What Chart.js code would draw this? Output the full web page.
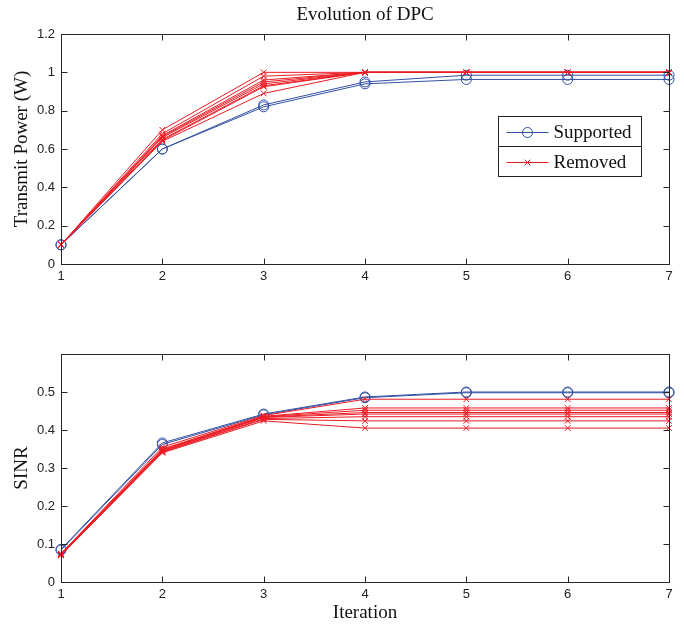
<!DOCTYPE html>
<html>
<head>
<meta charset="utf-8">
<title>Evolution of DPC</title>
<script src="https://cdn.jsdelivr.net/npm/chart.js@4.4.1/dist/chart.umd.min.js"></script>
<style>
  body { margin: 0; background: #fff; }
  canvas { display: block; }
</style>
</head>
<body>
<canvas id="powerChart" width="684" height="310"></canvas>
<canvas id="sinrChart" width="684" height="315"></canvas>
<script>
// iteration axis
const iterations = [1, 2, 3, 4, 5, 6, 7];

// transmit power (W) per user
const powerSupported = [
  [0.1, 0.60, 0.83, 0.95, 0.985, 0.985, 0.985],
  [0.1, 0.60, 0.82, 0.94, 0.963, 0.963, 0.963]
];
const powerRemoved = [
  [0.1, 0.70, 1.00, 1.0, 1.0, 1.0, 1.0],
  [0.1, 0.68, 0.98, 1.0, 1.0, 1.0, 1.0],
  [0.1, 0.67, 0.96, 1.0, 1.0, 1.0, 1.0],
  [0.1, 0.665, 0.95, 1.0, 1.0, 1.0, 1.0],
  [0.1, 0.66, 0.94, 1.0, 1.0, 1.0, 1.0],
  [0.1, 0.65, 0.93, 1.0, 1.0, 1.0, 1.0],
  [0.1, 0.645, 0.925, 1.0, 1.0, 1.0, 1.0],
  [0.1, 0.64, 0.89, 1.0, 1.0, 1.0, 1.0]
];

// SINR per user
const sinrSupported = [
  [0.086, 0.366, 0.442, 0.487, 0.500, 0.500, 0.500],
  [0.084, 0.362, 0.440, 0.485, 0.498, 0.498, 0.498]
];
const sinrRemoved = [
  [0.075, 0.355, 0.438, 0.481, 0.481, 0.481, 0.481],
  [0.074, 0.350, 0.436, 0.458, 0.458, 0.458, 0.458],
  [0.073, 0.348, 0.435, 0.452, 0.452, 0.452, 0.452],
  [0.073, 0.346, 0.434, 0.446, 0.446, 0.446, 0.446],
  [0.072, 0.345, 0.433, 0.442, 0.442, 0.442, 0.442],
  [0.072, 0.343, 0.430, 0.435, 0.435, 0.435, 0.435],
  [0.071, 0.342, 0.428, 0.424, 0.424, 0.424, 0.424],
  [0.070, 0.340, 0.424, 0.405, 0.405, 0.405, 0.405]
];

const BLUE = '#3350a3';
const RED = '#ec1c24';
const SERIF = '"Liberation Serif", "Times New Roman", serif';
const SANS = '"Liberation Sans", Arial, Helvetica, sans-serif';

Chart.defaults.font.family = SANS;
Chart.defaults.font.size = 13;
Chart.defaults.color = '#222';

// box round the plot area with inward ticks on all four sides
const axesBox = {
  id: 'axesBox',
  afterDatasetsDraw(chart) {
    const { ctx, chartArea: a, scales: { x, y } } = chart;
    const L = Math.round(a.left) + 0.5, R = Math.round(a.right) + 0.5;
    const T = Math.round(a.top) + 0.5, B = Math.round(a.bottom) + 0.5;
    const len = 6;
    ctx.save();
    ctx.strokeStyle = '#262626';
    ctx.lineWidth = 1;
    ctx.strokeRect(L, T, R - L, B - T);
    ctx.beginPath();
    x.ticks.forEach((t, i) => {
      const px = Math.round(x.getPixelForTick(i)) + 0.5;
      ctx.moveTo(px, B); ctx.lineTo(px, B - len);
      ctx.moveTo(px, T); ctx.lineTo(px, T + len);
    });
    y.ticks.forEach(t => {
      const py = Math.round(y.getPixelForValue(t.value)) + 0.5;
      ctx.moveTo(L, py); ctx.lineTo(L + len, py);
      ctx.moveTo(R, py); ctx.lineTo(R - len, py);
    });
    ctx.stroke();
    ctx.restore();
  }
};

// boxed legend inside the plot area, one entry per user group
const boxLegend = {
  id: 'boxLegend',
  afterDraw(chart, args, opts) {
    if (!opts.show) return;
    const { ctx, chartArea: a } = chart;
    const seen = {};
    const entries = chart.data.datasets.filter(d => {
      if (seen[d.label]) return false;
      seen[d.label] = true;
      return true;
    });
    const w = 143, rowH = 30;
    const left = Math.round(a.right - opts.right - w) + 0.5;
    const top = Math.round(a.top + opts.top) + 0.5;
    ctx.save();
    ctx.fillStyle = '#fff';
    ctx.fillRect(left, top, w, rowH * entries.length);
    entries.forEach((d, i) => {
      const y0 = top + i * rowH;
      const cy = Math.round(y0 + rowH / 2);
      ctx.strokeStyle = '#222';
      ctx.lineWidth = 1;
      ctx.strokeRect(left, y0, w, rowH);
      ctx.strokeStyle = d.borderColor;
      ctx.beginPath();
      ctx.moveTo(left + 8, cy + 0.5);
      ctx.lineTo(left + 50, cy + 0.5);
      ctx.stroke();
      ctx.fillStyle = 'rgba(0,0,0,0)';
      Chart.helpers.drawPoint(ctx, {
        pointStyle: d.pointStyle, radius: d.pointRadius, rotation: 0, borderWidth: 1
      }, left + 29, cy + 0.5);
      ctx.fillStyle = '#111';
      ctx.font = '19px ' + SERIF;
      ctx.textBaseline = 'middle';
      ctx.fillText(d.label, left + 55, cy + 1);
    });
    ctx.restore();
  }
};

function makeDatasets(supported, removed) {
  const sets = [];
  supported.forEach(values => sets.push({
    label: 'Supported', data: values, order: 1,
    borderColor: BLUE, borderWidth: 1, backgroundColor: 'transparent',
    pointStyle: 'circle', pointRadius: 5, pointBorderWidth: 1,
    pointBorderColor: BLUE, pointBackgroundColor: 'transparent', clip: false
  }));
  removed.forEach(values => sets.push({
    label: 'Removed', data: values, order: 0,
    borderColor: RED, borderWidth: 1, backgroundColor: 'transparent',
    pointStyle: 'crossRot', pointRadius: 4, pointBorderWidth: 1,
    pointBorderColor: RED, pointBackgroundColor: 'transparent', clip: false
  }));
  return sets;
}

function makeOptions(cfg) {
  return {
    responsive: false,
    animation: false,
    devicePixelRatio: 1,
    events: [],
    layout: { padding: { top: cfg.padTop, right: 15, left: 0, bottom: 0 } },
    plugins: {
      legend: { display: false },
      tooltip: { enabled: false },
      title: {
        display: !!cfg.title,
        text: cfg.title,
        fullSize: false,
        color: '#111',
        font: { family: SERIF, size: 19, weight: 'normal' },
        padding: { top: 4, bottom: 7.2 }
      },
      boxLegend: { show: !!cfg.legend, right: 28, top: 82 }
    },
    scales: {
      x: {
        type: 'category',
        offset: false,
        grid: { display: false, drawTicks: false },
        border: { display: false },
        ticks: { padding: 5, maxRotation: 0, autoSkip: false },
        title: {
          display: !!cfg.xTitle,
          text: cfg.xTitle,
          color: '#111',
          font: { family: SERIF, size: 19 },
          padding: { top: 0, bottom: 1 }
        },
        afterFit: s => { s.height = cfg.xHeight; }
      },
      y: {
        type: 'linear',
        min: cfg.yMin,
        max: cfg.yMax,
        grid: { display: false, drawTicks: false },
        border: { display: false },
        ticks: {
          stepSize: cfg.yStep,
          padding: 6,
          // plain numbers: 1 rather than 1.0
          callback: v => String(Math.round(v * 100) / 100)
        },
        title: {
          display: true,
          text: cfg.yTitle,
          color: '#111',
          font: { family: SERIF, size: 19 },
          padding: { top: 11, bottom: 0 }
        },
        afterBuildTicks: s => {
          s.ticks = s.ticks.filter(t => t.value <= cfg.yLabelMax + 1e-9);
        },
        afterFit: s => { s.width = 61; }
      }
    }
  };
}

new Chart(document.getElementById('powerChart'), {
  type: 'line',
  data: { labels: iterations, datasets: makeDatasets(powerSupported, powerRemoved) },
  options: makeOptions({
    title: 'Evolution of DPC', legend: true, padTop: 0, xHeight: 46,
    yMin: 0, yMax: 1.2, yStep: 0.2, yLabelMax: 1.2, yTitle: 'Transmit Power (W)'
  }),
  plugins: [axesBox, boxLegend]
});

new Chart(document.getElementById('sinrChart'), {
  type: 'line',
  data: { labels: iterations, datasets: makeDatasets(sinrSupported, sinrRemoved) },
  options: makeOptions({
    title: '', legend: false, padTop: 44, xHeight: 43, xTitle: 'Iteration',
    yMin: 0, yMax: 0.6, yStep: 0.1, yLabelMax: 0.5, yTitle: 'SINR'
  }),
  plugins: [axesBox, boxLegend]
});
</script>
</body>
</html>
